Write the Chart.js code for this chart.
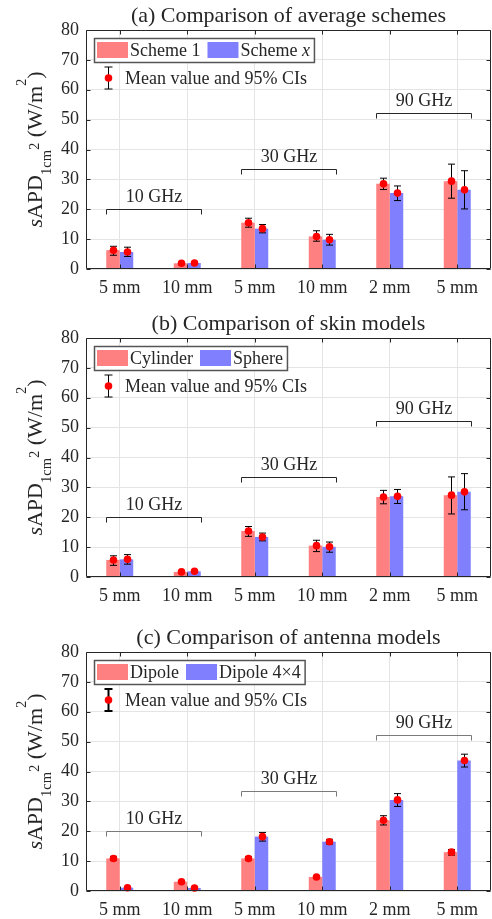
<!DOCTYPE html>
<html>
<head>
<meta charset="utf-8">
<script src="https://cdn.jsdelivr.net/npm/chart.js@4"></script>
<style>
  html, body { margin: 0; padding: 0; background: #fff; }
  body { width: 492px; height: 919px; position: relative; overflow: hidden; }
  canvas { position: absolute; left: 0; }
</style>
</head>
<body>
<canvas id="chartA" width="492" height="300" style="top:0px"></canvas>
<canvas id="chartB" width="492" height="310" style="top:300px"></canvas>
<canvas id="chartC" width="492" height="309" style="top:610px"></canvas>
<script>
/* ------------------ DATA ------------------ */
const thicknessLabels = ["5 mm", "10 mm", "5 mm", "10 mm", "2 mm", "5 mm"];

const freqLabels = ["10 GHz", "30 GHz", "90 GHz"];
const freqFrom = [0, 2, 4];
const freqTo = [1, 3, 5];
const freqLevel = [20, 33.6, 52.1];

// (a) average schemes
const schemeOneMean = [6.3, 1.9, 15.5, 10.9, 28.5, 29.4];
const schemeOneLo = [4.6, 1.6, 14.0, 9.3, 26.6, 23.7];
const schemeOneHi = [7.6, 2.2, 17.0, 12.8, 30.4, 35.1];
const schemeXMean = [5.7, 2.0, 13.5, 9.8, 25.4, 26.5];
const schemeXLo = [4.2, 1.7, 12.1, 8.0, 22.9, 20.1];
const schemeXHi = [7.3, 2.3, 14.9, 11.6, 27.8, 32.9];

// (b) skin models
const cylinderMean = [5.7, 1.7, 15.4, 10.5, 26.8, 27.4];
const cylinderLo = [3.9, 1.4, 13.6, 8.5, 24.5, 21.1];
const cylinderHi = [7.1, 2.0, 16.9, 12.3, 29.0, 33.5];
const sphereMean = [5.9, 1.9, 13.4, 10.1, 27.0, 28.5];
const sphereLo = [4.3, 1.6, 12.1, 8.3, 24.6, 22.5];
const sphereHi = [7.5, 2.2, 14.7, 11.7, 29.3, 34.6];

// (c) antenna models
const dipoleMean = [10.9, 3.1, 10.9, 4.7, 23.7, 13.0];
const dipoleLo = [10.2, 2.7, 10.3, 4.3, 22.1, 12.0];
const dipoleHi = [11.6, 3.5, 11.5, 5.1, 25.2, 13.9];
const arrayMean = [1.1, 1.0, 18.2, 16.5, 30.5, 43.7];
const arrayLo = [0.8, 0.7, 16.7, 15.7, 28.3, 41.5];
const arrayHi = [1.4, 1.3, 19.6, 17.3, 32.6, 45.8];

/* ------------------ STYLE ------------------ */
const SERIF = "'Liberation Serif', 'Times New Roman', serif";
const RED = "#ff8080";
const BLUE = "#8080ff";
const INK = "#262626";

/* ------------------ DRAWING HELPERS ------------------ */
function drawPieces(ctx, pieces, x, y, size) {
    pieces.forEach(p => {
        ctx.font = (p[1] ? "italic " : "") + size + "px " + SERIF;
        ctx.fillText(p[0], x, y);
        x += ctx.measureText(p[0]).width;
    });
    return x;
}

function piecesWidth(ctx, pieces, size) {
    let w = 0;
    pieces.forEach(p => {
        ctx.font = (p[1] ? "italic " : "") + size + "px " + SERIF;
        w += ctx.measureText(p[0]).width;
    });
    return w;
}

function drawYLabel(ctx, area) {
    const big = 22, small = 14.5;
    const parts = [
        ["s", true, big, 0],
        ["APD", false, big, 0],
        ["1cm", false, small, 9],
        ["2", false, small, -3],
        [" (W/m", false, big, 0],
        ["2", false, small, -16],
        [")", false, big, 0]
    ];
    ctx.save();
    ctx.textAlign = "left";
    ctx.textBaseline = "alphabetic";
    let total = 0;
    parts.forEach(p => {
        ctx.font = (p[1] ? "italic " : "") + p[2] + "px " + SERIF;
        total += ctx.measureText(p[0]).width;
    });
    ctx.translate(42, (area.top + area.bottom) / 2);
    ctx.rotate(-Math.PI / 2);
    ctx.fillStyle = INK;
    let x = -total / 2;
    parts.forEach(p => {
        ctx.font = (p[1] ? "italic " : "") + p[2] + "px " + SERIF;
        ctx.fillText(p[0], x, p[3]);
        x += ctx.measureText(p[0]).width;
    });
    ctx.restore();
}

function makePanel(canvasId, cfg) {
    const decor = {
        id: "decor",
        afterDatasetsDraw(chart) {
            const ctx = chart.ctx;
            const ys = chart.scales.y;
            const metas = [chart.getDatasetMeta(0), chart.getDatasetMeta(1)];

            // error bars
            ctx.save();
            ctx.strokeStyle = "#000";
            ctx.lineWidth = 1;
            metas.forEach((meta, k) => {
                meta.data.forEach((bar, i) => {
                    const x = Math.round(bar.x) + 0.5;
                    const y1 = ys.getPixelForValue(cfg.lo[k][i]);
                    const y2 = ys.getPixelForValue(cfg.hi[k][i]);
                    ctx.beginPath();
                    ctx.moveTo(x, y1); ctx.lineTo(x, y2);
                    ctx.moveTo(x - 3.5, y1); ctx.lineTo(x + 3.5, y1);
                    ctx.moveTo(x - 3.5, y2); ctx.lineTo(x + 3.5, y2);
                    ctx.stroke();
                });
            });
            // mean dots
            ctx.fillStyle = "#ff0000";
            metas.forEach((meta, k) => {
                meta.data.forEach((bar, i) => {
                    ctx.beginPath();
                    ctx.arc(Math.round(bar.x) + 0.5, ys.getPixelForValue(cfg.mean[k][i]), 3.8, 0, Math.PI * 2);
                    ctx.fill();
                });
            });

            // frequency brackets
            ctx.strokeStyle = cfg.bracketColor;
            ctx.lineWidth = 1;
            ctx.fillStyle = INK;
            ctx.font = "18px " + SERIF;
            ctx.textAlign = "center";
            ctx.textBaseline = "alphabetic";
            freqLabels.forEach((lab, g) => {
                const b0 = metas[0].data[freqFrom[g]];
                const b1 = metas[1].data[freqTo[g]];
                const xa = Math.round(b0.x - b0.width / 2) + 0.5;
                const xb = Math.round(b1.x + b1.width / 2) + 0.5;
                const yb = Math.round(ys.getPixelForValue(freqLevel[g])) + 0.5;
                ctx.beginPath();
                ctx.moveTo(xa, yb + 5); ctx.lineTo(xa, yb);
                ctx.lineTo(xb, yb); ctx.lineTo(xb, yb + 5);
                ctx.stroke();
                ctx.fillText(lab, (xa + xb) / 2, yb - 8);
            });
            ctx.restore();
        },
        afterDraw(chart) {
            const ctx = chart.ctx;
            const a = chart.chartArea;
            const ys = chart.scales.y, xs = chart.scales.x;
            ctx.save();

            // axes box and inward ticks
            ctx.strokeStyle = INK;
            ctx.lineWidth = 1;
            const L = Math.round(a.left) + 0.5, R = Math.round(a.right) - 0.5;
            const T = Math.round(a.top) + 0.5, B = Math.round(a.bottom) - 0.5;
            ctx.beginPath();
            ctx.rect(L, T, R - L, B - T);
            ys.ticks.forEach(t => {
                const y = Math.round(ys.getPixelForValue(t.value)) + 0.5;
                ctx.moveTo(L, y); ctx.lineTo(L + 4, y);
                ctx.moveTo(R, y); ctx.lineTo(R - 4, y);
            });
            xs.ticks.forEach((t, i) => {
                const x = Math.round(xs.getPixelForValue(i)) + 0.5;
                ctx.moveTo(x, B); ctx.lineTo(x, B - 4);
                ctx.moveTo(x, T); ctx.lineTo(x, T + 4);
            });
            ctx.stroke();

            // title
            ctx.fillStyle = INK;
            ctx.font = "22px " + SERIF;
            ctx.textAlign = "center";
            ctx.textBaseline = "alphabetic";
            ctx.fillText(cfg.title, (a.left + a.right) / 2, a.top - 8);

            // y label
            drawYLabel(ctx, a);

            // legend box
            const size = 18;
            const bx = a.left + 8, by = a.top + 8, bh = 24;
            ctx.textAlign = "left";
            const w1 = piecesWidth(ctx, cfg.names[0], size);
            const w2 = piecesWidth(ctx, cfg.names[1], size);
            const bw = 3 + 31 + 2 + w1 + 7 + 31 + 2 + w2 + 4;
            ctx.fillStyle = "#fff";
            ctx.fillRect(bx, by, bw, bh);
            ctx.strokeStyle = "#555";
            ctx.lineWidth = 1.5;
            ctx.strokeRect(bx + 0.5, by + 0.5, bw, bh);
            ctx.fillStyle = RED;
            ctx.fillRect(bx + 3, by + 4, 31, bh - 8);
            ctx.fillStyle = INK;
            ctx.textBaseline = "middle";
            let tx = drawPieces(ctx, cfg.names[0], bx + 36, by + bh / 2 + 1, size);
            ctx.fillStyle = BLUE;
            ctx.fillRect(tx + 7, by + 4, 31, bh - 8);
            ctx.fillStyle = INK;
            drawPieces(ctx, cfg.names[1], tx + 40, by + bh / 2 + 1, size);

            // error bar legend entry
            const ix = Math.round(bx + 14) + 0.5, iy = by + bh + 16;
            ctx.strokeStyle = "#000";
            ctx.lineWidth = cfg.iconWidth;
            ctx.beginPath();
            ctx.moveTo(ix, iy - 11); ctx.lineTo(ix, iy + 11);
            ctx.moveTo(ix - 4, iy - 11); ctx.lineTo(ix + 4, iy - 11);
            ctx.moveTo(ix - 4, iy + 11); ctx.lineTo(ix + 4, iy + 11);
            ctx.stroke();
            ctx.fillStyle = "#ff0000";
            ctx.beginPath();
            ctx.arc(ix, iy, 3.8, 0, Math.PI * 2);
            ctx.fill();
            ctx.fillStyle = INK;
            ctx.font = size + "px " + SERIF;
            ctx.fillText("Mean value and 95% CIs", bx + 31, iy + 1);

            ctx.restore();
        }
    };

    return new Chart(document.getElementById(canvasId), {
        type: "bar",
        data: {
            labels: thicknessLabels,
            datasets: [
                { data: cfg.mean[0], backgroundColor: RED, borderWidth: 0 },
                { data: cfg.mean[1], backgroundColor: BLUE, borderWidth: 0 }
            ]
        },
        options: {
            responsive: false,
            animation: false,
            events: [],
            categoryPercentage: 0.4,
            barPercentage: 1.0,
            layout: { padding: { left: 0, right: 1, top: cfg.padTop, bottom: cfg.padBottom } },
            plugins: { legend: { display: false }, tooltip: { enabled: false }, title: { display: false } },
            scales: {
                x: {
                    grid: { color: "#e4e4e4", offset: false, drawTicks: false },
                    border: { display: false },
                    ticks: { color: INK, font: { family: SERIF, size: 18 }, padding: 8, maxRotation: 0, autoSkip: false },
                    afterFit: s => { s.height = 25; }
                },
                y: {
                    min: 0, max: 80,
                    grid: { color: "#e4e4e4", drawTicks: false },
                    border: { display: false },
                    ticks: { stepSize: 10, color: INK, font: { family: SERIF, size: 18 }, padding: 7 },
                    afterFit: s => { s.width = 86; }
                }
            }
        },
        plugins: [decor]
    });
}

/* ------------------ PANELS ------------------ */
makePanel("chartA", {
    title: "(a) Comparison of average schemes",
    names: [[["Scheme 1", false]], [["Scheme ", false], ["x", true]]],
    mean: [schemeOneMean, schemeXMean],
    lo: [schemeOneLo, schemeXLo],
    hi: [schemeOneHi, schemeXHi],
    bracketColor: "#262626",
    iconWidth: 1,
    padTop: 30, padBottom: 6
});

makePanel("chartB", {
    title: "(b) Comparison of skin models",
    names: [[["Cylinder", false]], [["Sphere", false]]],
    mean: [cylinderMean, sphereMean],
    lo: [cylinderLo, sphereLo],
    hi: [cylinderHi, sphereHi],
    bracketColor: "#262626",
    iconWidth: 1,
    padTop: 38, padBottom: 8
});

makePanel("chartC", {
    title: "(c) Comparison of antenna models",
    names: [[["Dipole", false]], [["Dipole 4\u00d74", false]]],
    mean: [dipoleMean, arrayMean],
    lo: [dipoleLo, arrayLo],
    hi: [dipoleHi, arrayHi],
    bracketColor: "#7a7a7a",
    iconWidth: 2,
    padTop: 42, padBottom: 3
});
</script>
</body>
</html>
